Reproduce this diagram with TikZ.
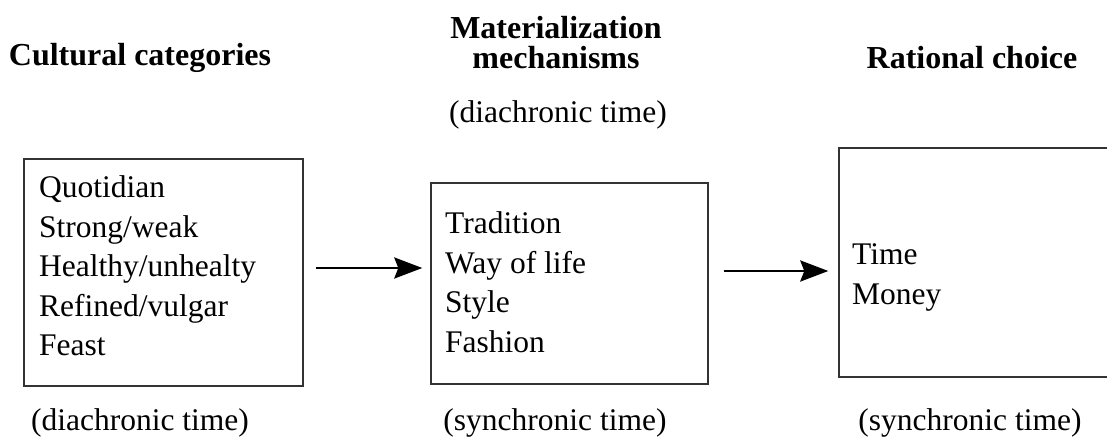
\documentclass[tikz,border=0pt]{standalone}
\usepackage{fontspec}
\setmainfont{Liberation Serif}
\usetikzlibrary{arrows.meta}
\begin{document}
\begin{tikzpicture}[x=1pt,y=-1pt,
  boxstyle/.style={draw=black!80, line width=1.4pt, inner sep=0pt, rectangle},
  listtext/.style={anchor=north west, inner sep=0pt, align=left, font=\fontsize{31.5}{39.5}\selectfont},
  headtext/.style={inner sep=0pt, align=center, font=\fontsize{32}{30}\selectfont\bfseries},
  timetext/.style={inner sep=0pt, font=\fontsize{31.5}{38}\selectfont},
  arr/.style={-{Stealth[length=28pt,width=21pt,inset=4pt]}, line width=2.8pt}]
\useasboundingbox (0,0) rectangle (1107,444);
\clip (0,0) rectangle (1107,444);
% boxes
\node[boxstyle, minimum width=279pt, minimum height=227pt] (b1) at (163.5,272.5) {};
\node[boxstyle, minimum width=277pt, minimum height=201pt] (b2) at (569.5,283.5) {};
\node[boxstyle, minimum width=281pt, minimum height=229pt] (b3) at (979.5,262.5) {};
% box contents
\node[listtext] (l1) at (39,175.5) {Quotidian\\Strong/weak\\Healthy/unhealty\\Refined/vulgar\\Feast};
\node[listtext] (l2) at (445,211.5) {Tradition\\Way of life\\Style\\Fashion};
\node[listtext] (l3) at (852,243.5) {Time\\Money};
% headings
\node[headtext] (h1) at (140,58) {Cultural categories};
\node[headtext] (h2) at (556,43) {Materialization\\mechanisms};
\node[headtext] (h3) at (972,58) {Rational choice};
% time labels
\node[timetext] (d2) at (558,115) {(diachronic time)};
\node[timetext] (f1) at (140,423) {(diachronic time)};
\node[timetext] (f2) at (555,423) {(synchronic time)};
\node[timetext] (f3) at (970,423) {(synchronic time)};
% arrows
\coordinate (ya) at (0,268);
\coordinate (yb) at (0,271);
\draw[arr, shorten <=12pt, shorten >=8pt] (b1.east |- ya) -- (b2.west |- ya);
\draw[arr, shorten <=15pt, shorten >=10pt] (b2.east |- yb) -- (b3.west |- yb);
\end{tikzpicture}
\end{document}
